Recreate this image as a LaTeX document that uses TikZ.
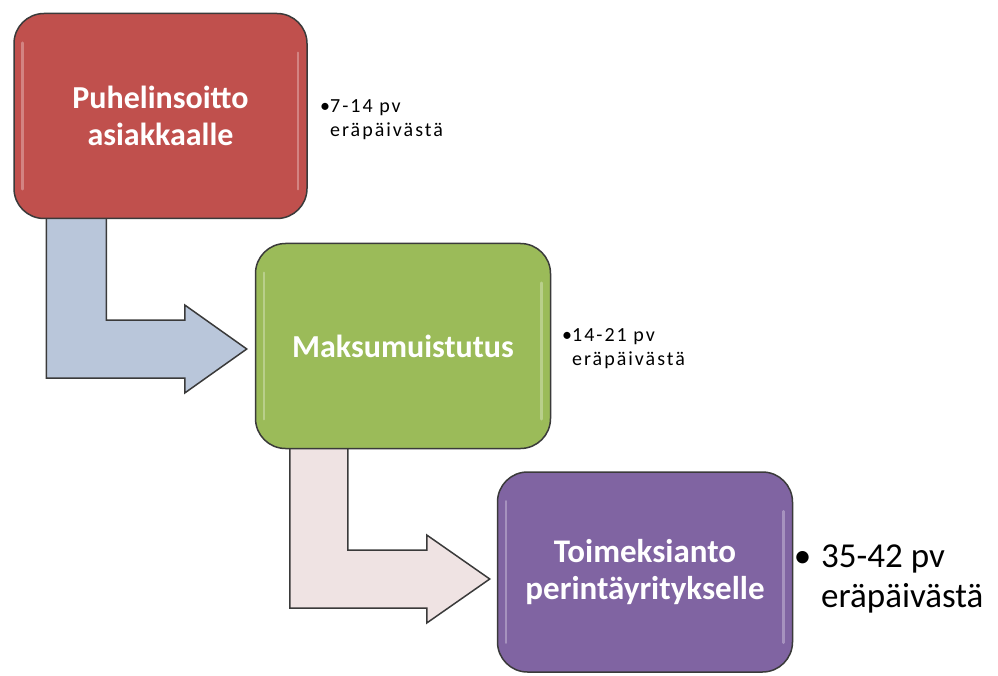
\documentclass[tikz,border=0pt]{standalone}
\usepackage{fontspec}
\setmainfont{Carlito}
\usetikzlibrary{calc,backgrounds}
\definecolor{boxred}{HTML}{C0504D}
\definecolor{boxgreen}{HTML}{9BBB59}
\definecolor{boxpurple}{HTML}{8064A2}
\definecolor{arrowblue}{HTML}{B9C6DA}
\definecolor{arrowpink}{HTML}{EFE3E3}
\definecolor{edgegray}{HTML}{3A3A3A}
\begin{document}
\begin{tikzpicture}[x=1pt,y=-1pt,
  stepbox/.style={draw=edgegray, line width=1.5pt, rounded corners=30pt,
    minimum width=293pt, minimum height=205pt, text=white,
    font=\fontsize{32}{37}\selectfont\bfseries, align=center, inner sep=0pt},
  blockarrow/.style={draw=edgegray, line width=1.5pt, line join=miter},
  note/.style={anchor=base west, align=left, inner sep=0pt, text=black},
  gloss/.style={white, opacity=0.3, line width=2.5pt, line cap=round}
]
\useasboundingbox (0,0) rectangle (998,676);

% boxes
\node[stepbox, fill=boxred] (b1) at (160.5,116) {Puhelinsoitto\\asiakkaalle};
\node[stepbox, fill=boxgreen, minimum width=295pt] (b2) at (403,346) {Maksumuistutus};
\node[stepbox, fill=boxpurple, minimum width=295pt, minimum height=200pt,
  font=\fontsize{33}{37}\selectfont\bfseries] (b3) at (645,572) {Toimeksianto\\perintäyritykselle};

% gloss highlights
\foreach \b in {b1,b2,b3}{
  \draw[gloss] ($(\b.north west)+(9,30)$) -- ($(\b.south west)+(9,-30)$);
  \draw[gloss] ($(\b.north east)+(-10,40)$) -- ($(\b.south east)+(-10,-30)$);
}

% block arrows
\begin{scope}[on background layer]
  \coordinate (t1) at ($(b2.west)+(-8,3)$);
  \coordinate (t1b) at ($(t1)+(0,29)$);
  \draw[blockarrow, fill=arrowblue]
    ($(b1.south west)+(33,-4)$) coordinate (s1) -- ++(60,0)
    |- ($(t1)+(-62,-29)$) -- ++(0,-15) -- (t1) -- ($(t1)+(-62,44)$)
    -- ++(0,-15) -- (s1 |- t1b) -- cycle;
  \coordinate (t2) at ($(b3.west)+(-7,7)$);
  \coordinate (t2b) at ($(t2)+(0,29)$);
  \draw[blockarrow, fill=arrowpink]
    ($(b2.south west)+(35,-4)$) coordinate (s2) -- ++(58,0)
    |- ($(t2)+(-63,-29)$) -- ++(0,-15) -- (t2) -- ($(t2)+(-63,44)$)
    -- ++(0,-15) -- (s2 |- t2b) -- cycle;
\end{scope}

% notes (base anchor = baseline of last line)
\node[note, font=\fontsize{20}{24}\selectfont\addfontfeature{LetterSpace=10}] (n1) at (330,137)
  {\llap{•}7-14 pv\\eräpäivästä};
\node[note, font=\fontsize{20}{24}\selectfont\addfontfeature{LetterSpace=10}] (n2) at (572,365)
  {\llap{•}14-21 pv\\eräpäivästä};
\node[note, font=\fontsize{35}{40}\selectfont] (n3) at (821,607)
  {\llap{•\hspace{10pt}}35-42 pv\\eräpäivästä};
\end{tikzpicture}
\end{document}
